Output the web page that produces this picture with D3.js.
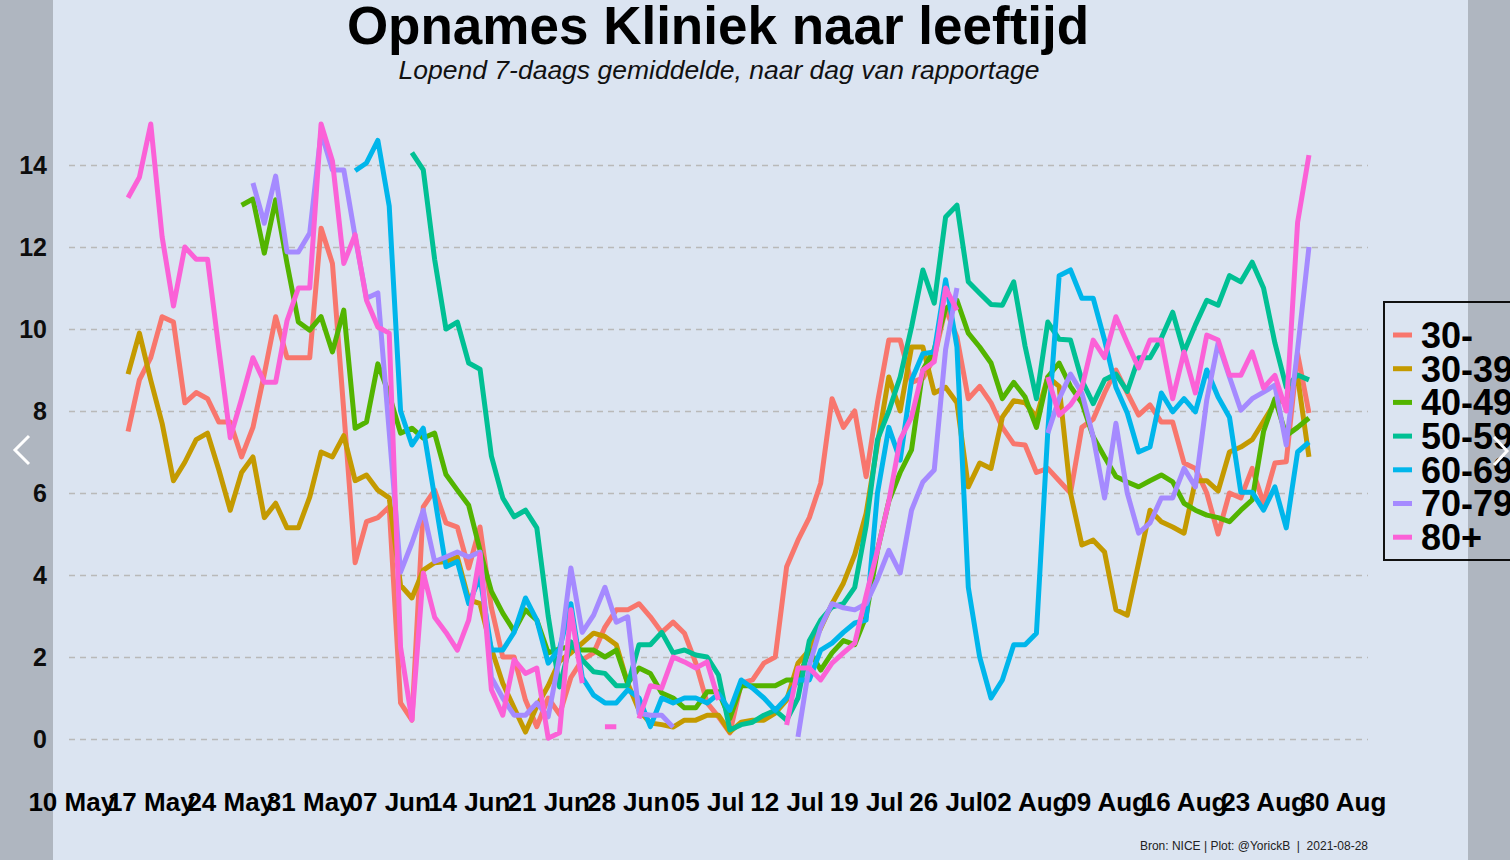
<!DOCTYPE html>
<html>
<head>
<meta charset="utf-8">
<script src="https://cdn.jsdelivr.net/npm/d3@7"></script>
<style>
  html, body { margin: 0; padding: 0; background: #dbe4f1; }
  svg { display: block; font-family: "Liberation Sans", Arial, sans-serif; }
</style>
</head>
<body>
<svg id="chart" width="1510" height="860"></svg>
<script>
// ---------- DATA (daily values, first day 2021-05-15) ----------
const startDate = "2021-05-15";
const categories = ["30-", "30-39", "40-49", "50-59", "60-69", "70-79", "80+"];
const seriesColors = ["#F8766D", "#C49A00", "#53B400", "#00C094", "#00B6EB", "#A58AFF", "#FB61D7"];
const N = null;

const v30min = [7.5,8.76,9.3,10.3,10.17,8.2,8.45,8.3,7.73,7.73,6.88,7.6,8.9,10.3,9.3,9.3,9.3,12.46,11.6,8.0,
  4.3,5.3,5.4,5.66,0.88,0.46,5.66,6.07,5.27,5.17,4.17,5.17,3.2,2.0,2.0,0.95,0.3,1.0,0.6,1.5,
  1.93,2.1,2.73,3.15,3.15,3.3,2.98,2.6,2.85,2.58,1.85,0.88,0.54,0.15,1.36,1.44,1.85,2.0,4.2,4.85,
  5.4,6.24,8.3,7.6,8.0,6.4,8.2,9.73,9.73,8.7,8.8,9.3,10.5,9.8,8.3,8.6,8.2,7.6,7.2,7.17,
  6.5,6.6,6.3,6.0,7.6,7.8,8.44,9.0,8.44,7.9,8.15,7.73,7.73,6.73,6.6,6.0,5.0,6.0,5.88,6.6,
  5.75,6.73,6.76,9.4,7.95];
const v3039 = [8.9,9.9,8.75,7.7,6.3,6.75,7.3,7.46,6.56,5.58,6.5,6.88,5.4,5.75,5.15,5.15,5.9,7.0,6.88,7.4,
  6.3,6.44,6.07,5.88,3.75,3.44,4.12,4.3,4.33,4.44,3.4,3.3,2.2,1.36,0.76,0.17,0.8,1.3,1.9,2.1,
  2.34,2.58,2.5,2.3,1.36,0.7,0.39,0.35,0.29,0.46,0.46,0.58,0.58,0.17,0.41,0.46,0.46,0.63,0.95,1.85,
  2.17,2.7,3.3,3.8,4.5,5.5,7.2,8.83,8.0,9.56,9.56,8.44,8.58,8.2,6.15,6.73,6.6,7.85,8.25,8.2,
  7.85,8.83,8.6,6.0,4.73,4.85,4.56,3.15,3.02,4.3,5.58,5.3,5.17,5.02,6.3,6.3,6.05,7.0,7.12,7.3,
  7.75,8.2,8.27,8.83,6.88];
const v4049 = [N,N,N,N,N,N,N,N,N,N,13.02,13.17,11.85,13.15,11.6,10.17,9.97,10.3,9.44,10.46,
  7.58,7.73,9.15,8.4,7.46,7.58,7.34,7.46,6.45,6.07,5.7,4.6,3.6,3.07,2.63,3.15,2.9,2.1,2.2,2.25,
  2.17,2.17,2.0,2.17,1.36,1.73,1.6,1.12,1.0,0.76,0.76,1.15,1.15,0.5,1.3,1.3,1.3,1.3,1.44,1.44,
  2.17,1.68,2.1,2.4,2.3,3.0,4.6,5.8,6.5,7.05,9.0,9.5,10.5,10.7,9.9,9.56,9.17,8.3,8.7,8.34,
  7.6,8.83,9.17,8.6,8.2,7.37,6.88,6.4,6.27,6.15,6.3,6.44,6.27,5.75,5.58,5.46,5.4,5.3,5.58,5.83,
  7.5,8.3,7.4,7.6,7.83];
const v5059 = [N,N,N,N,N,N,N,N,N,N,N,N,N,N,N,N,N,N,N,N,
  N,N,N,N,N,14.3,13.88,11.7,10.0,10.17,9.17,9.02,6.9,5.88,5.42,5.58,5.15,3.0,1.27,2.37,
  1.93,1.64,1.6,1.3,1.3,2.3,2.3,2.6,2.1,2.17,2.05,2.0,1.56,0.22,0.35,0.41,0.58,0.7,0.46,1.0,
  2.4,2.9,3.22,3.3,3.7,5.2,7.3,8.0,8.83,10.05,11.44,10.63,12.73,13.02,11.15,10.87,10.6,10.58,11.15,9.58,
  8.3,10.17,9.75,9.73,8.75,8.18,8.76,8.9,8.48,9.3,9.3,9.78,10.41,9.44,10.1,10.7,10.58,11.3,11.15,11.63,
  11.0,9.66,8.58,8.88,8.76];
const v6069 = [N,N,N,N,N,N,N,N,N,N,N,N,N,N,N,N,N,N,N,N,
  13.86,14.05,14.6,13.0,8.0,7.17,7.58,5.9,4.2,4.33,3.3,3.95,2.17,2.17,2.6,3.44,2.9,1.85,2.2,3.3,
  1.5,1.07,0.88,0.88,1.2,1.0,0.3,1.0,0.88,1.0,1.0,0.88,1.1,0.7,1.44,1.24,1.0,0.7,1.0,1.44,
  1.44,2.17,2.34,2.6,2.83,2.9,6.0,7.6,6.8,8.75,9.4,9.44,11.2,9.56,3.7,2.0,1.0,1.44,2.3,2.3,
  2.58,7.5,11.3,11.44,10.75,10.75,9.73,8.58,7.95,7.0,7.12,8.44,7.98,8.3,7.98,9.0,8.34,7.85,6.02,6.02,
  5.58,6.15,5.15,7.0,7.24];
const v7079 = [N,N,N,N,N,N,N,N,N,N,N,13.56,12.58,13.73,11.88,11.88,12.34,14.8,13.88,13.88,
  12.25,10.75,10.88,7.5,4.07,4.78,5.58,4.33,4.44,4.56,4.44,4.56,1.5,1.0,0.58,0.58,0.88,0.54,2.0,4.17,
  2.6,3.02,3.7,2.85,2.98,0.63,0.58,0.58,0.29,N,N,N,N,N,N,N,N,N,N,0.05,
  1.8,2.73,3.3,3.2,3.15,3.3,3.9,4.6,4.05,5.58,6.27,6.56,9.5,11.0,N,N,N,N,N,N,
  N,7.46,8.3,8.9,8.44,7.37,5.88,7.7,6.0,5.02,5.27,5.88,5.88,6.6,6.15,8.27,9.66,8.83,8.02,8.3,
  8.46,8.63,7.17,9.5,12.0];
const v80plus = [13.2,13.7,15.0,12.25,10.56,12.0,11.7,11.7,9.5,7.35,8.3,9.3,8.7,8.7,10.2,11.0,11.0,15.0,14.1,11.6,
  12.3,10.7,10.05,9.9,2.24,0.46,4.05,2.97,2.6,2.17,2.9,4.5,1.2,0.58,1.93,1.6,1.73,0.02,0.15,3.15,
  1.36,N,0.3,0.3,N,0.5,1.3,1.24,2.0,1.88,1.73,1.88,0.95,N,N,N,N,N,0.34,1.73,
  1.73,1.44,1.85,2.1,2.34,3.5,4.6,5.8,7.3,7.85,9.0,9.2,11.0,10.46,N,N,N,N,N,N,
  N,8.83,7.9,8.15,8.56,9.73,9.3,10.3,9.66,9.05,9.73,9.73,8.3,9.44,8.44,9.85,9.73,8.87,8.87,9.44,
  8.56,8.87,8.0,12.6,14.24];

const seriesValues = [v30min, v3039, v4049, v5059, v6069, v7079, v80plus];
const xTickLabels = ["2021-05-10","2021-05-17","2021-05-24","2021-05-31","2021-06-07","2021-06-14",
  "2021-06-21","2021-06-28","2021-07-05","2021-07-12","2021-07-19","2021-07-26","2021-08-02",
  "2021-08-09","2021-08-16","2021-08-23","2021-08-30"];
const yTickValues = [0, 2, 4, 6, 8, 10, 12, 14];

// ---------- LAYOUT ----------
const W = 1510, H = 860;
const panel = { left: 69, right: 1368, top: 124, bottom: 739 };
const parse = d3.utcParse("%Y-%m-%d");
const t0 = parse(startDate);
const nDays = v30min.length;
const tEnd = d3.utcDay.offset(t0, nDays - 1);
const padMs = 5.2 * 864e5;

const x = d3.scaleUtc()
  .domain([new Date(+t0 - padMs), new Date(+tEnd + padMs)])
  .range([panel.left, panel.right]);
const y = d3.scaleLinear().domain([0, 14]).range([739, 165]);

const svg = d3.select("#chart");
svg.append("rect").attr("width", W).attr("height", H).attr("fill", "#dbe4f1");

// Title & subtitle
svg.append("text").attr("x", 718).attr("y", 44).attr("text-anchor", "middle")
  .attr("font-size", 53).attr("font-weight", "bold").attr("fill", "#000")
  .text("Opnames Kliniek naar leeftijd");
svg.append("text").attr("x", 719).attr("y", 79).attr("text-anchor", "middle")
  .attr("font-size", 26.5).attr("font-style", "italic").attr("fill", "#111")
  .text("Lopend 7-daags gemiddelde, naar dag van rapportage");

// Y axis with dashed grid
const yAxis = d3.axisLeft(y).tickValues(yTickValues)
  .tickSize(-(panel.right - panel.left)).tickPadding(22).tickFormat(d3.format("d"));
const gy = svg.append("g").attr("transform", `translate(${panel.left},0)`).call(yAxis);
gy.select(".domain").remove();
gy.selectAll(".tick line").attr("stroke", "#b9b9b9").attr("stroke-width", 1.3)
  .attr("stroke-dasharray", "6,5");
gy.selectAll(".tick text").attr("font-size", 25).attr("font-weight", "bold")
  .attr("fill", "#111").attr("font-family", "Liberation Sans, Arial, sans-serif");

// X axis
const xAxis = d3.axisBottom(x).tickValues(xTickLabels.map(parse))
  .tickSize(0).tickPadding(0).tickFormat(d3.utcFormat("%d %b"));
const gx = svg.append("g").attr("transform", `translate(0,790)`).call(xAxis);
gx.select(".domain").remove();
gx.selectAll(".tick text").attr("font-size", 26).attr("font-weight", "bold")
  .attr("fill", "#000").attr("dy", "0.8em")
  .attr("font-family", "Liberation Sans, Arial, sans-serif");

// Lines
const line = d3.line()
  .defined(d => d.v !== null)
  .x(d => x(d.t))
  .y(d => y(d.v));
const gLines = svg.append("g");
seriesValues.forEach((vals, k) => {
  const pts = vals.map((v, i) => ({ t: d3.utcDay.offset(t0, i), v }));
  gLines.append("path").datum(pts)
    .attr("d", line)
    .attr("fill", "none")
    .attr("stroke", seriesColors[k])
    .attr("stroke-width", 5)
    .attr("stroke-linejoin", "round")
    .attr("stroke-linecap", "butt");
});

// Legend
const lg = svg.append("g");
lg.append("rect").attr("x", 1384).attr("y", 302).attr("width", 140).attr("height", 258)
  .attr("fill", "none").attr("stroke", "#111").attr("stroke-width", 2);
categories.forEach((c, i) => {
  const cy = 335 + i * 33.7;
  lg.append("line").attr("x1", 1393).attr("x2", 1412).attr("y1", cy).attr("y2", cy)
    .attr("stroke", seriesColors[i]).attr("stroke-width", 5);
  lg.append("text").attr("x", 1421).attr("y", cy).attr("dy", "0.36em")
    .attr("font-size", 36).attr("font-weight", "bold").attr("fill", "#000").text(c);
});

// Caption
svg.append("text").attr("x", 1368).attr("y", 850).attr("text-anchor", "end")
  .attr("font-size", 12).attr("fill", "#222")
  .text("Bron: NICE | Plot: @YorickB  |  2021-08-28").attr("xml:space", "preserve")
  .style("white-space", "pre");

// Viewer overlays (side bars & chevrons)
svg.append("rect").attr("x", 0).attr("y", 0).attr("width", 53).attr("height", H)
  .attr("fill", "rgba(0,0,0,0.2)");
svg.append("rect").attr("x", 1468).attr("y", 0).attr("width", 42).attr("height", H)
  .attr("fill", "rgba(0,0,0,0.2)");
svg.append("path").attr("d", "M29,436 L15,450 L29,464").attr("fill", "none")
  .attr("stroke", "#fff").attr("stroke-width", 3);
svg.append("path").attr("d", "M1494,437 L1507,451 L1494,465").attr("fill", "none")
  .attr("stroke", "#fff").attr("stroke-width", 3);
</script>
</body>
</html>
